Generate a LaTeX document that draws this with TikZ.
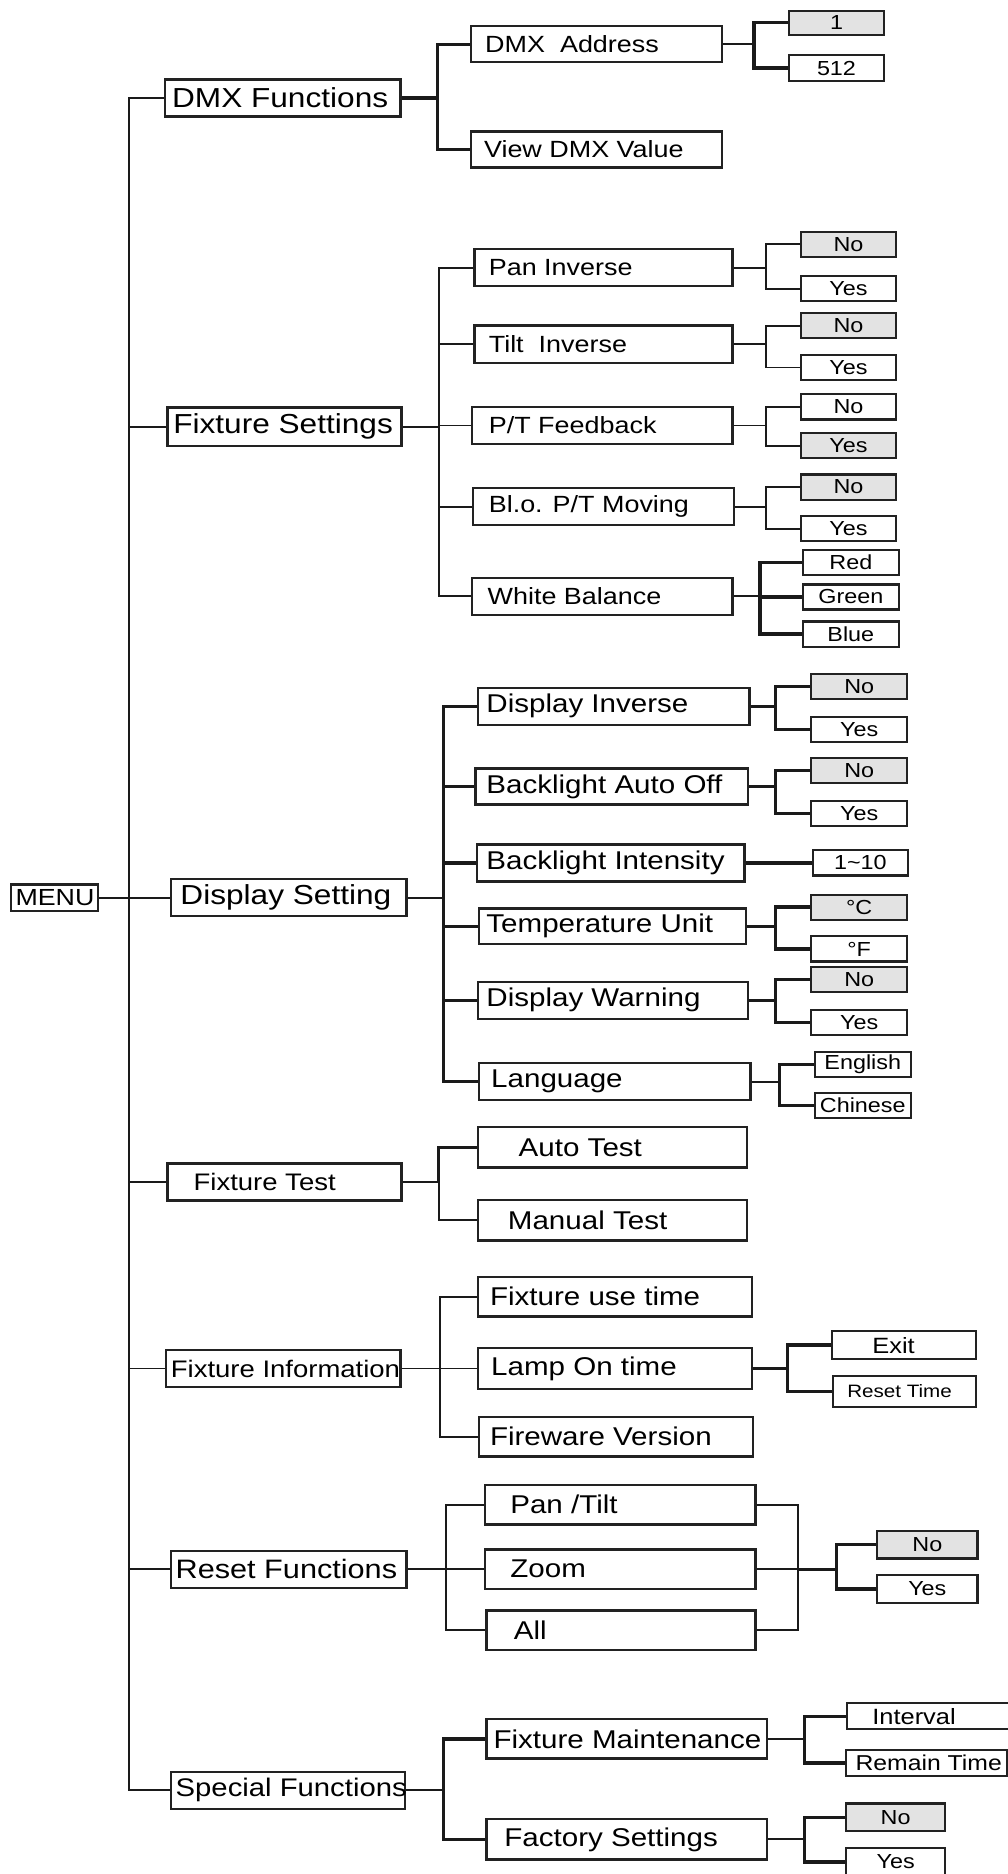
\documentclass[tikz,border=0pt]{standalone}
\usepackage{fontspec}
\setmainfont{Liberation Sans}[FakeStretch=1.15]
\definecolor{boxline}{HTML}{222222}
\definecolor{pickgrey}{HTML}{E3E3E3}
\definecolor{wire}{HTML}{1A1A1A}
\newcommand{\boxlabel}[3]{\makebox[#1][l]{\hspace*{#2}#3}}

\begin{document}
\begin{tikzpicture}[x=1pt, y=-1pt,
    menubox/.style={draw=boxline, line width=2pt, fill=white, anchor=west,
      inner sep=0pt, minimum height=31pt},
    topitem/.style={menubox, font=\fontsize{23}{26}\selectfont},
    subitem/.style={menubox, font=\fontsize{21.5}{24}\selectfont},
    subsmall/.style={menubox, font=\fontsize{19.6}{22}\selectfont},
    choice/.style={draw=boxline, line width=1.8pt, fill=white, anchor=west,
      inner sep=0pt, minimum width=80pt, minimum height=21pt,
      font=\fontsize{17}{19}\selectfont},
    link/.style={draw=wire, line width=1.6pt},
    boldlink/.style={draw=wire, line width=2.8pt}]
    \useasboundingbox (0,0) rectangle (843,1568);
    \fill[white] (0,0) rectangle (843,1568);

    % menu and first level
    \node[menubox, minimum height=22pt, font=\fontsize{19.5}{22}\selectfont] (menu) at (8,751) {\boxlabel{73pt}{4pt}{MENU}};
    \node[topitem] (dmxfn) at (137,82) {\boxlabel{197pt}{6pt}{DMX Functions}};
    \node[topitem, minimum height=32pt] (fixset) at (139,357) {\boxlabel{196pt}{5pt}{Fixture Settings}};
    \node[topitem] (dispset) at (142,751) {\boxlabel{197pt}{8pt}{Display Setting}};
    \node[topitem, font=\fontsize{20}{22}\selectfont] (fixtest) at (139,989) {\boxlabel{196pt}{22pt}{Fixture Test}};
    \node[topitem, font=\fontsize{20}{22}\selectfont] (fixinfo) at (138,1145) {\boxlabel{196pt}{4pt}{Fixture Information}};
    \node[topitem, font=\fontsize{22.3}{24}\selectfont] (resetfn) at (142,1313) {\boxlabel{197pt}{4pt}{Reset Functions}};
    \node[topitem, font=\fontsize{21.3}{24}\selectfont] (specfn) at (142,1498) {\boxlabel{196pt}{4pt}{Special Functions}};

    \coordinate (spine) at (108,751);
    \foreach \n in {dmxfn,fixset,fixtest,fixinfo,resetfn,specfn}
      \draw[link] (\n.west) -| (spine);
    \draw[link] (menu.east) -- (dispset.west);

    % DMX functions
    \node[subsmall, minimum height=30pt] (dmxaddr) at (393,37) {\boxlabel{210pt}{12pt}{DMX\ \ Address}};
    \node[subsmall, minimum height=30pt] (viewdmx) at (393,125) {\boxlabel{210pt}{11pt}{View DMX Value}};
    \coordinate (jdmx) at (366,82);
    \draw[boldlink] (dmxfn.east) -- (jdmx);
    \foreach \n in {dmxaddr,viewdmx}
      \draw[boldlink] (jdmx) |- (\n.west);
    \node[choice, fill=pickgrey, minimum height=20pt] (addrlow) at (659,19) {1};
    \node[choice, minimum height=22pt] (addrhigh) at (659,57) {512};
    \coordinate (jaddr) at (631,37);
    \draw[link] (dmxaddr.east) -- (jaddr);
    \foreach \n in {addrlow,addrhigh}
      \draw[boldlink] (jaddr) |- (\n.west);

    % fixture settings
    \node[subsmall] (paninv) at (396,224) {\boxlabel{216pt}{12pt}{Pan Inverse}};
    \node[subsmall] (tiltinv) at (396,288) {\boxlabel{216pt}{12pt}{Tilt\ \ Inverse}};
    \node[subsmall] (ptfb) at (394,356) {\boxlabel{218pt}{14pt}{P/T Feedback}};
    \node[subsmall] (blo) at (395,424) {\boxlabel{218pt}{13pt}{Bl.o. P/T Moving}};
    \node[subsmall] (wb) at (394,499) {\boxlabel{218pt}{13pt}{White Balance}};
    \coordinate (jfix) at (367,357);
    \draw[link] (fixset.east) -- (jfix);
    \foreach \n in {paninv,tiltinv,ptfb,blo,wb}
      \draw[link] (jfix) |- (\n.west);

    \coordinate (fixfork) at (641,0);
    \foreach \p/\ya/\yb/\fa/\fb in {paninv/204.5/241.5/pickgrey/white,
        tiltinv/272.5/307.5/pickgrey/white, ptfb/340.5/373/white/pickgrey,
        blo/407.5/442.5/pickgrey/white}{
      \node[choice, fill=\fa] (\p-no) at (669,\ya) {No};
      \node[choice, fill=\fb] (\p-yes) at (669,\yb) {Yes};
      \draw[link] (\p.east) -- (\p.east -| fixfork) coordinate (\p-j) |- (\p-no.west);
      \draw[link] (\p-j) |- (\p-yes.west);
    }
    \node[choice] (wbred) at (671,470.5) {Red};
    \node[choice] (wbgreen) at (671,499.5) {Green};
    \node[choice] (wbblue) at (671,530.5) {Blue};
    \coordinate (jwb) at (636,499);
    \draw[link] (wb.east) -- (jwb);
    \foreach \n in {wbred,wbgreen,wbblue}
      \draw[boldlink] (jwb) |- (\n.west);

    % display setting
    \node[subitem] (dispinv) at (399,591) {\boxlabel{227pt}{7pt}{Display Inverse}};
    \node[subitem, minimum height=30pt] (bao) at (397,658) {\boxlabel{228pt}{9pt}{Backlight Auto Off}};
    \node[subitem] (bi) at (398,722) {\boxlabel{224pt}{8pt}{Backlight Intensity}};
    \node[subitem, minimum height=30pt] (tu) at (400,775) {\boxlabel{223pt}{6pt}{Temperature Unit}};
    \node[subitem] (dw) at (399,837) {\boxlabel{226pt}{7pt}{Display Warning}};
    \node[subitem] (lang) at (400,905) {\boxlabel{227pt}{10pt}{Language}};
    \coordinate (jdisp) at (371,751);
    \draw[link] (dispset.east) -- (jdisp);
    \foreach \n in {dispinv,bao,bi,tu,dw,lang}
      \draw[boldlink] (jdisp) |- (\n.west);

    \coordinate (dispfork) at (649,0);
    \foreach \p/\ya/\yb/\ta/\tb in {dispinv/574.5/610.5/No/Yes,
        bao/644.5/680.5/No/Yes, tu/759/794/°C/°F, dw/819.5/855.5/No/Yes}{
      \node[choice, fill=pickgrey] (\p-a) at (678,\ya) {\ta};
      \node[choice] (\p-b) at (678,\yb) {\tb};
      \draw[boldlink] (\p.east) -- (\p.east -| dispfork) coordinate (\p-j) |- (\p-a.west);
      \draw[boldlink] (\p-j) |- (\p-b.west);
    }
    \node[choice] (bilevel) at (679,722) {1\textasciitilde 10};
    \draw[boldlink] (bi.east) -- (bilevel.west);
    \node[choice] (english) at (681,890.5) {English};
    \node[choice] (chinese) at (681,925) {Chinese};
    \coordinate (jlang) at (652,905);
    \draw[link] (lang.east) -- (jlang);
    \foreach \n in {english,chinese}
      \draw[boldlink] (jlang) |- (\n.west);

    % fixture test
    \node[subitem, minimum height=34pt] (autotest) at (399,960) {\boxlabel{225pt}{34pt}{Auto Test}};
    \node[subitem, minimum height=34pt] (mantest) at (399,1021) {\boxlabel{225pt}{25pt}{Manual Test}};
    \coordinate (jtest) at (367,989);
    \draw[link] (fixtest.east) -- (jtest);
    \draw[boldlink] (jtest) |- (autotest.west);
    \draw[link] (jtest) |- (mantest.west);

    % fixture information
    \node[subitem, minimum height=33pt] (usetime) at (399,1085) {\boxlabel{229pt}{10pt}{Fixture use time}};
    \node[subitem, minimum height=34pt] (lamptime) at (399,1145) {\boxlabel{229pt}{11pt}{Lamp On time}};
    \node[subitem, minimum height=33pt] (fware) at (400,1202) {\boxlabel{229pt}{9pt}{Fireware Version}};
    \coordinate (jinfo) at (368,1145);
    \draw[link] (fixinfo.east) -- (lamptime.west);
    \foreach \n in {usetime,fware}
      \draw[link] (jinfo) |- (\n.west);
    \node[choice, minimum height=23pt, font=\fontsize{18.5}{20}\selectfont] (exit) at (695,1125.5) {\boxlabel{121pt}{34pt}{Exit}};
    \node[choice, minimum height=26pt, font=\fontsize{15}{17}\selectfont] (resettime) at (696,1164) {\boxlabel{120pt}{12pt}{Reset Time}};
    \coordinate (jlamp) at (659,1145);
    \draw[boldlink] (lamptime.east) -- (jlamp);
    \foreach \n in {exit,resettime}
      \draw[boldlink] (jlamp) |- (\n.west);

    % reset functions
    \node[subitem, minimum height=33pt] (pantilt) at (405,1259) {\boxlabel{226pt}{21pt}{Pan /Tilt}};
    \node[subitem, minimum height=33pt] (zoombox) at (405,1313) {\boxlabel{226pt}{21pt}{Zoom}};
    \node[subitem, minimum height=33pt] (allbox) at (406,1364) {\boxlabel{225pt}{23pt}{All}};
    \coordinate (jreset) at (373,1313);
    \draw[link] (resetfn.east) -- (zoombox.west);
    \foreach \n in {pantilt,allbox}
      \draw[link] (jreset) |- (\n.west);
    \coordinate (jmerge) at (668,1313);
    \draw[link] (pantilt.east) -| (jmerge) |- (allbox.east);
    \draw[link] (zoombox.east) -- (jmerge);
    \node[choice, fill=pickgrey, minimum width=84pt, minimum height=23pt] (resetno) at (733,1292.5) {No};
    \node[choice, minimum width=84pt, minimum height=23pt] (resetyes) at (733,1329.5) {Yes};
    \coordinate (jconfirm) at (700,1313);
    \draw[boldlink] (jmerge) -- (jconfirm);
    \foreach \n in {resetno,resetyes}
      \draw[boldlink] (jconfirm) |- (\n.west);

    % special functions
    \node[subitem, minimum height=33pt] (fmaint) at (406,1455) {\boxlabel{235pt}{6pt}{Fixture Maintenance}};
    \node[subitem, minimum height=34pt] (fsett) at (406,1539) {\boxlabel{235pt}{15pt}{Factory Settings}};
    \coordinate (jspec) at (371,1498);
    \draw[link] (specfn.east) -- (jspec);
    \foreach \n in {fmaint,fsett}
      \draw[boldlink] (jspec) |- (\n.west);
    \node[choice, minimum height=22pt, font=\fontsize{18.5}{20}\selectfont] (interval) at (708,1436) {\boxlabel{135pt}{21pt}{Interval}};
    \node[choice, minimum height=22pt, font=\fontsize{18}{20}\selectfont] (remain) at (707,1475) {\boxlabel{135pt}{8pt}{Remain Time}};
    \coordinate (jmaint) at (673,1455);
    \draw[link] (fmaint.east) -- (jmaint);
    \foreach \n in {interval,remain}
      \draw[boldlink] (jmaint) |- (\n.west);
    \node[choice, fill=pickgrey, minimum width=83pt, minimum height=23pt] (specno) at (707,1520.5) {No};
    \node[choice, minimum width=83pt, minimum height=23pt] (specyes) at (707,1558) {Yes};
    \coordinate (jfact) at (673,1539);
    \draw[link] (fsett.east) -- (jfact);
    \foreach \n in {specno,specyes}
      \draw[boldlink] (jfact) |- (\n.west);
\end{tikzpicture}
\end{document}
